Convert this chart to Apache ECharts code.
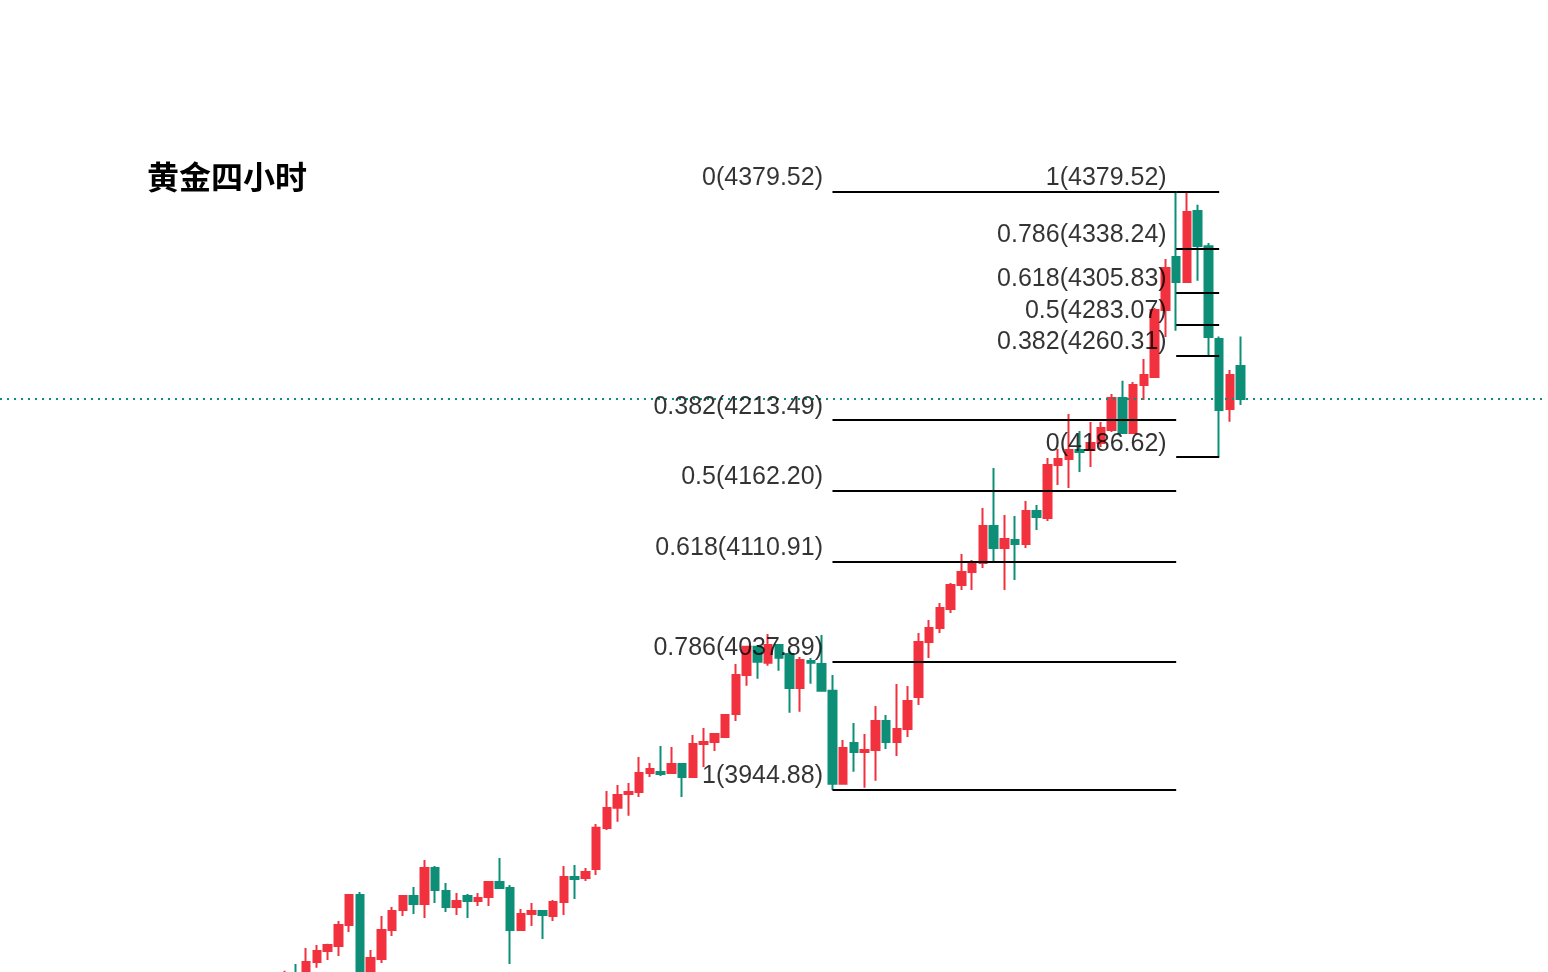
<!DOCTYPE html>
<html><head><meta charset="utf-8">
<script src="https://cdn.jsdelivr.net/npm/echarts@6/dist/echarts.min.js"></script>
<style>html,body{margin:0;padding:0;background:#fff;overflow:hidden}#chart{width:1548px;height:972px}</style>
</head><body><div id="chart"></div>
<script>
// ---------- data ----------
const chartTitle = '黄金四小时';
// 4-hour candles, oldest first
const opens = [3795,3812,3806,3820.0,3828.0,3831.7,3846.9,3868.7,3806,3822.2,
  3843.3,3857.8,3868.0,3862.2,3888.3,3871.6,3860.0,3868.0,3864.3,3867.2,
  3878.1,3873.8,3843.3,3854.9,3857.1,3853.4,3863.6,3881.8,3881.0,3887.6,
  3917.3,3932.1,3942.0,3943.5,3957.3,3958.0,3957.3,3963.8,3954.4,3978.4,
  3979.8,3983.4,4000.1,4028.5,4049.0,4037.4,4050.2,4043.7,4019.0,4038.6,
  4036.4,4017.1,3949.5,3979.1,3972.5,3974.0,3995.1,3979.8,3989.3,4012.5,
  4052.4,4062.6,4076.4,4093.8,4103.3,4109.8,4136.7,4120.7,4126.5,4123.6,
  4147.6,4142.5,4181.0,4185.3,4191.9,4191.9,4196.9,4206.4,4229.6,4204.2,
  4239.1,4244.9,4293.5,4332.0,4313.9,4365.4,4339.8,4272.5,4221.6,4252.9];
const closes = [3808,3802,3820.0,3828.0,3832.4,3846.9,3868.7,3805,3822.9,3843.3,
  3857.1,3868.0,3862.2,3888.3,3872.3,3860.0,3864.3,3864.3,3866.5,3878.1,
  3873.8,3843.3,3854.9,3857.1,3854.2,3863.6,3881.8,3880.3,3885.4,3917.6,
  3931.9,3941.3,3943.5,3957.3,3960.2,3956.6,3963.8,3954.4,3978.4,3979.8,
  3985.6,3999.4,4028.5,4049.0,4038.1,4050.2,4041.0,4019.0,4039.4,4037.4,
  4017.1,3949.5,3975.5,3972.5,3974.0,3995.1,3979.8,3989.3,4009.6,4052.4,
  4062.6,4077.1,4093.8,4103.3,4109.8,4136.7,4120.7,4127.2,4123.6,4147.6,
  4143.2,4181.0,4185.3,4191.9,4190.4,4196.9,4207.8,4229.6,4204.2,4239.1,
  4246.3,4293.5,4324.0,4313.9,4364.7,4340.0,4273.9,4220.9,4246.3,4228.9];
const lows = [3790,3796,3801,3815.9,3821.5,3824.4,3841.8,3800,3803,3819.3,
  3838.9,3853.4,3854.9,3852.0,3862.9,3856.3,3854.2,3852.0,3860.7,3860.7,
  3873.0,3818.6,3842.5,3846.2,3836.7,3849.8,3854.2,3865.8,3878.9,3883.2,
  3915.9,3921.9,3926.3,3939.9,3954.4,3955.1,3956.6,3939.9,3953.6,3961.7,
  3973.3,3982.7,3995.1,4020.7,4025.8,4035.2,4031.6,4001.1,4001.8,4022.1,
  4017.1,3944.88,3948.8,3958.2,3946.6,3951.7,3974.7,3969.6,3983.4,4006.7,
  4040.8,4059.0,4073.5,4090.2,4090.2,4106.2,4111.3,4090.2,4097.5,4120.7,
  4133.8,4140.3,4166.4,4164.3,4175.9,4179.5,4194.0,4205.0,4203.5,4203.5,
  4228.2,4244.5,4273.9,4278.5,4313.2,4314.8,4260.1,4186.62,4212.4,4224.5];
const highs = [3813.6,3818.6,3830.2,3832.4,3833.3,3849.8,3869.4,3870.9,3828.8,3853.4,
  3860.0,3868.5,3874.5,3894.1,3889.8,3877.4,3870.1,3869.4,3870.1,3878.9,
  3895.6,3876.0,3858.5,3862.9,3857.8,3865.0,3889.8,3890.5,3888.3,3920.3,
  3944.2,3948.6,3950.0,3968.9,3964.6,3976.9,3976.2,3964.6,3984.9,3990.0,
  3986.2,4000.1,4036.4,4049.5,4050.2,4058.2,4050.9,4046.1,4041.5,4040.8,
  4057.5,4028.5,3981.3,3993.6,3985.6,4006.0,3999.4,4021.9,4020.5,4059.0,
  4068.4,4080.8,4095.3,4116.3,4112.0,4149.7,4178.8,4144.7,4144.0,4154.8,
  4151.9,4186.1,4192.6,4218.0,4205.7,4212.2,4212.2,4232.5,4242.2,4241.2,
  4258.0,4294.9,4330.6,4379.52,4379.52,4370.0,4342.2,4274.2,4249.9,4274.2];
// Fibonacci retracement (swing 3944.88 -> 4379.52)
const leftFibRatios = ['0','0.382','0.5','0.618','0.786','1'];
const leftFibValues = [4379.52,4213.49,4162.20,4110.91,4037.89,3944.88];
const leftFibFrom = 51, leftFibTo = 83;   // candle indices
// Fibonacci retracement (swing 4379.52 -> 4186.62)
const rightFibRatios = ['1','0.786','0.618','0.5','0.382','0'];
const rightFibValues = [4379.52,4338.24,4305.83,4283.07,4260.31,4186.62];
const rightFibFrom = 83, rightFibTo = 87;

// ---------- layout helpers (not data) ----------
const LEAD = 26, TRAIL = 28;
const N = opens.length;
const xData = [];
for (let i = 0; i < LEAD; i++) xData.push('a' + i);
for (let i = 0; i < N; i++) xData.push('K' + (i + 1));
for (let i = 0; i < TRAIL; i++) xData.push('z' + i);
const xIdx = i => LEAD + i;

const candleData = [];
for (let i = 0; i < LEAD; i++) candleData.push(['-','-','-','-']);
for (let i = 0; i < N; i++) candleData.push([opens[i], closes[i], lows[i], highs[i]]);

const RED = '#F2313F', GREEN = '#0C8F76';
const fibLine = {color:'#000', width:2, type:'solid'};
const markLines = [];
const labelPts = [];
leftFibValues.forEach((v, k) => {
  markLines.push([{coord:[xData[xIdx(leftFibFrom)], v], lineStyle:fibLine},
                  {coord:[xData[xIdx(leftFibTo)], v]}]);
  labelPts.push({value:[xIdx(leftFibFrom), v], text: leftFibRatios[k] + '(' + v.toFixed(2) + ')'});
});
rightFibValues.forEach((v, k) => {
  markLines.push([{coord:[xData[xIdx(rightFibFrom)], v], lineStyle:fibLine},
                  {coord:[xData[xIdx(rightFibTo)], v]}]);
  labelPts.push({value:[xIdx(rightFibFrom), v], text: rightFibRatios[k] + '(' + v.toFixed(2) + ')'});
});
markLines.push({yAxis: closes[N - 1], lineStyle:{color:GREEN, width:2, type:[2,5]}});

const chart = echarts.init(document.getElementById('chart'), null, {renderer:'canvas'});
chart.setOption({
  animation:false,
  backgroundColor:'#fff',
  title:{text:chartTitle, left:147, top:161, padding:0,
    textStyle:{fontFamily:'"Noto Sans CJK SC"', fontSize:32, fontWeight:'bold', color:'#000'}},
  grid:{left:-5.4, top:0, width:144*10.779, height:972, containLabel:false},
  xAxis:{type:'category', data:xData, show:false, boundaryGap:true},
  yAxis:{type:'value', min:3812.77, max:4518.66, show:false, splitLine:{show:false}},
  series:[
    {type:'candlestick', data:candleData, barWidth:8,
     itemStyle:{color:RED, color0:GREEN, borderColor:RED, borderColor0:GREEN, borderWidth:2},
     markLine:{silent:true, symbol:['none','none'], animation:false,
       label:{show:false}, data:markLines}},
    {type:'scatter', symbolSize:1, itemStyle:{color:'rgba(0,0,0,0)'}, silent:true, z:5,
     data:labelPts.map(p => ({value:p.value, name:p.text})),
     label:{show:true, position:[-9,-13], align:'right', verticalAlign:'middle',
       formatter: p => p.name, textBorderWidth:0,
       fontFamily:'"Liberation Sans", Arial, sans-serif', fontSize:25, color:'#000'}}
  ]
});
</script>
</body></html>
